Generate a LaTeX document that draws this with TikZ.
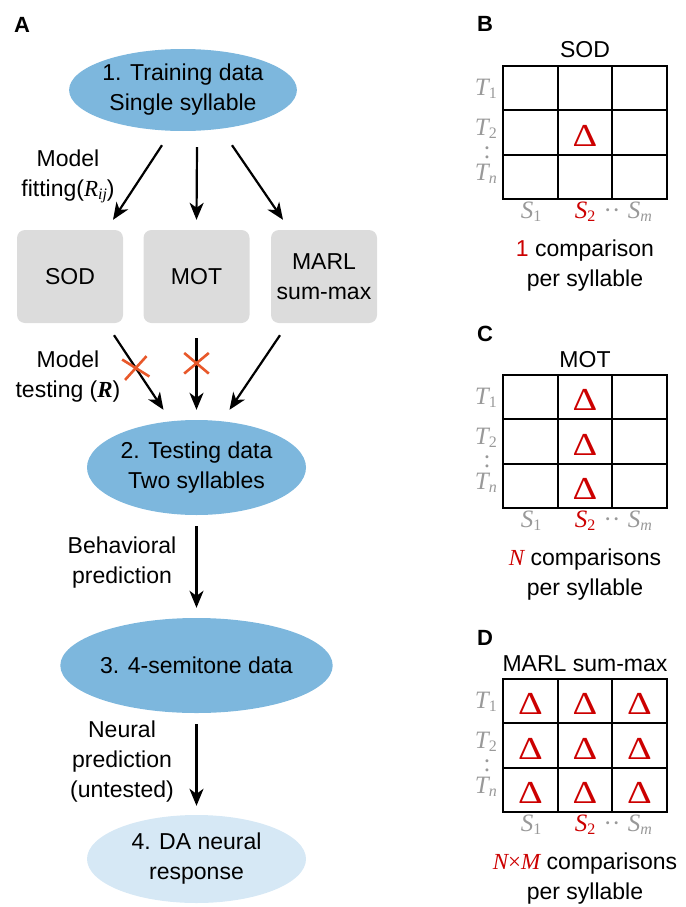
\documentclass[tikz,border=0pt]{standalone}
\usepackage{graphicx}
\usepackage{fontspec}
\setmainfont{Liberation Sans}
\newfontfamily\tms{Liberation Serif}
\usetikzlibrary{shapes.geometric,shapes.misc,arrows.meta}

\definecolor{ellblue}{HTML}{7DB7DD}
\definecolor{elllight}{HTML}{D6E8F5}
\definecolor{boxgray}{HTML}{DCDCDC}
\definecolor{dred}{HTML}{CC0000}
\definecolor{lblgray}{HTML}{999999}
\definecolor{xorange}{HTML}{E8582A}

% italic serif symbol with a lowered subscript
\newcommand\isym[2]{{\tms\itshape #1}\raisebox{-3pt}{\fontsize{16}{16}\selectfont\tms #2}}
\newcommand\bigdelta{{\tms\scalebox{1.2}[1]{Δ}}}

\tikzset{
  txt/.style={font=\fontsize{23}{30}\selectfont, align=center, inner sep=0pt},
  ell/.style={ellipse, fill=ellblue, inner sep=0pt, txt},
  model/.style={rounded corners=8pt, fill=boxgray, minimum width=106pt, minimum height=93pt, txt},
  arr/.style={line width=2.2pt, -{Stealth[length=17pt,width=14pt,inset=5pt]}},
  xmark/.style={cross out, draw=xorange, line width=2.6pt, minimum width=22pt, minimum height=18pt, inner sep=0pt},
  panel/.style={font=\fontsize{22}{22}\selectfont\bfseries, anchor=base west, inner sep=0pt},
  lbl/.style={font=\fontsize{25}{25}\selectfont, text=lblgray, inner sep=0pt},
  delta/.style={font=\fontsize{32}{32}\selectfont, text=dred, inner sep=0pt},
  gridline/.style={line width=1.7pt},
}

\begin{document}
\begin{tikzpicture}[x=1pt, y=-1pt]
\useasboundingbox (0,0) rectangle (685,907);

% ---------- panel A: flow chart ----------
\node[panel] (la) at (14,33) {A};

\node[ell, minimum width=192pt, minimum height=82pt] (e1) at (183,90) {1. Training data\\Single syllable};

\node[model] (sod)  at (70,276.5)  {SOD};
\node[model] (mot)  at (196.5,276.5) {MOT};
\node[model] (marl) at (324,276.5) {MARL\\sum-max};

\node[ell, minimum width=219pt, minimum height=95pt] (e2) at (196.5,467.5) {2. Testing data\\Two syllables};
\node[ell, minimum width=219pt, minimum height=95pt] (e3) at (196.5,665.5) {3. 4-semitone data};
\node[ell, fill=elllight, minimum width=219pt, minimum height=88pt] (e4) at (196.5,859) {4. DA neural\\response};

% fitting arrows
\draw[arr] ([shift={(-21,14)}]e1.south) -- ([shift={(43,-10)}]sod.north);
\draw[arr] ([shift={(14,16)}]e1.south) -- ([shift={(0,-10)}]mot.north);
\draw[arr] ([shift={(49,14)}]e1.south) -- ([shift={(-41,-10)}]marl.north);

% testing arrows, two of them crossed out
\draw[arr] ([shift={(44,12)}]sod.south) -- node[xmark, pos=0.44, rotate=8] (x1) {} ([shift={(-33,-10)}]e2.north);
\draw[arr] ([shift={(0,15)}]mot.south) -- node[xmark, pos=0.35] (x2) {} ([shift={(0,-10)}]e2.north);
\draw[arr] ([shift={(-44,12)}]marl.south) -- ([shift={(33,-10)}]e2.north);

% prediction arrows
\draw[arr] ([shift={(0,11)}]e2.south) -- ([shift={(0,-10)}]e3.north);
\draw[arr] ([shift={(0,11)}]e3.south) -- ([shift={(0,-9)}]e4.north);

% side labels
\node[txt] (fit) at (68,176) {Model\\fitting(\isym{R}{\itshape ij})};
\node[txt] (tst) at (68,377) {Model\\testing ({\tms\bfseries\itshape R})};
\node[txt] (beh) at (122,563) {Behavioral\\prediction};
\node[txt] (neu) at (122,762) {Neural\\prediction\\(untested)};

% ---------- panels B, C, D: comparison grids ----------
\foreach \dy/\letter/\title/\capfirst/\cells in {
  0/B/SOD/{{\color{dred}1} comparison}/{2/2},
  309/C/MOT/{{\tms\itshape\color{dred}N} comparisons}/{2/1,2/2,2/3},
  613/D/MARL sum-max/{{\color{dred}{\tms\itshape N}{\tms ×}{\tms\itshape M}} comparisons}/{1/1,2/1,3/1,1/2,2/2,3/2,1/3,2/3,3/3}}{
  \begin{scope}[shift={(0,\dy)}]
    \node[panel] (p\letter) at (477,32) {\letter};
    \node[txt, anchor=base] (t\letter) at (585,58) {\title};
    % 3x3 grid
    \draw[gridline] (503.3,66) rectangle (666.7,199);
    \draw[gridline] (557.8,66) -- (557.8,199) (612.2,66) -- (612.2,199);
    \draw[gridline] (503.3,110.3) -- (666.7,110.3) (503.3,154.7) -- (666.7,154.7);
    % deltas in cells: column/row
    \foreach \c/\r in \cells {
      \node[delta] at ({503.3+54.45*(\c-0.5)}, {66+44.33*(\r-0.5)+3}) {\bigdelta};
    }
    % row labels
    \node[lbl, anchor=base east] at (497,95)  {\isym{T}{1}};
    \node[lbl, anchor=base east] at (497,135) {\isym{T}{2}};
    \node[lbl, anchor=base] at (487,158) {\tms :};
    \node[lbl, anchor=base east] at (497,180) {\isym{T}{\itshape n}};
    % column labels
    \node[lbl, anchor=base] at (531,218) {\isym{S}{1}};
    \node[lbl, anchor=base, text=dred] at (585,218) {\isym{S}{2}};
    \node[lbl, anchor=base] at (612,218) {\tms ··};
    \node[lbl, anchor=base] at (640,218) {\isym{S}{\itshape m}};
    % caption
    \node[txt, anchor=base] (c\letter) at (585,256) {\capfirst};
    \node[txt, anchor=base] at (585,286) {per syllable};
  \end{scope}
}
\end{tikzpicture}
\end{document}
